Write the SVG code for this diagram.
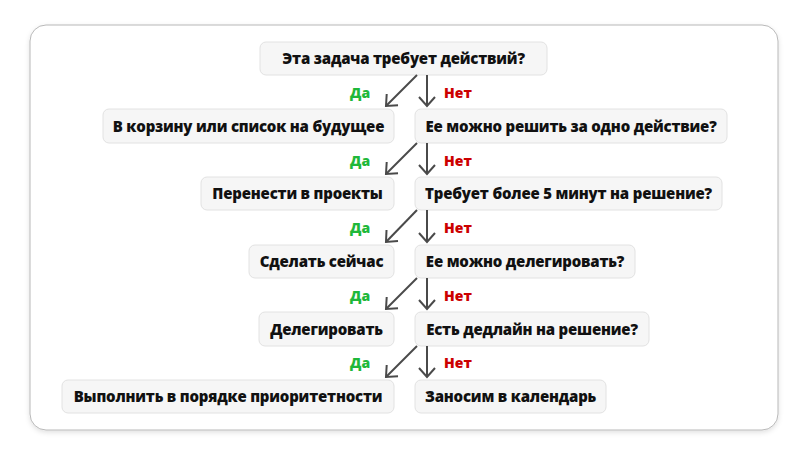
<svg xmlns="http://www.w3.org/2000/svg" width="808" height="455" viewBox="0 0 808 455">
<style>
.n rect{fill:#f6f6f6;stroke:#e2e2e2;stroke-width:1}
.n text{font-family:"Open Sans","Noto Sans",sans-serif;font-weight:800;font-size:15px;letter-spacing:-0.2px;fill:#111;text-anchor:middle}
.c path{fill:none;stroke:#4a4a4a;stroke-width:2}
.yes{font-family:"Open Sans","Noto Sans",sans-serif;font-weight:800;font-size:14px;fill:#1fb83a}
.no{font-family:"Open Sans","Noto Sans",sans-serif;font-weight:800;font-size:14px;fill:#cc0000}
</style>
<defs>
<marker id="ah" markerWidth="20" markerHeight="20" refX="11" refY="9" orient="auto" markerUnits="userSpaceOnUse">
<path d="M2,1 L11,9 L2,17" fill="none" stroke="#4a4a4a" stroke-width="2"/>
</marker>
<filter id="sh" x="-5%" y="-5%" width="110%" height="115%">
<feDropShadow dx="0" dy="2" stdDeviation="2.5" flood-color="#000" flood-opacity="0.12"/>
</filter>
</defs>
<rect width="808" height="455" fill="#fff"/>
<rect x="30" y="25" width="748" height="405" rx="16" fill="#fff" stroke="#b8b8b8" stroke-width="1" filter="url(#sh)"/>
<g id="n1" class="n"><rect x="260" y="42" width="287" height="33" rx="6"/><text x="403.5" y="64">Эта задача требует действий?</text></g>
<g id="n2" class="n"><rect x="103" y="109" width="291" height="34" rx="6"/><text x="248.5" y="131.5">В корзину или список на будущее</text></g>
<g id="n3" class="n"><rect x="415" y="109" width="312" height="34" rx="6"/><text x="571" y="131.5">Ее можно решить за одно действие?</text></g>
<g id="n4" class="n"><rect x="201" y="177" width="193" height="33" rx="6"/><text x="297.5" y="199">Перенести в проекты</text></g>
<g id="n5" class="n"><rect x="415" y="177" width="307" height="33" rx="6"/><text x="568.5" y="199">Требует более 5 минут на решение?</text></g>
<g id="n6" class="n"><rect x="249" y="245" width="145" height="33" rx="6"/><text x="321.5" y="267">Сделать сейчас</text></g>
<g id="n7" class="n"><rect x="415" y="245" width="220" height="33" rx="6"/><text x="525" y="267">Ее можно делегировать?</text></g>
<g id="n8" class="n"><rect x="259" y="312" width="135" height="34" rx="6"/><text x="326.5" y="334.5">Делегировать</text></g>
<g id="n9" class="n"><rect x="415" y="312" width="234" height="34" rx="6"/><text x="532" y="334.5">Есть дедлайн на решение?</text></g>
<g id="n10" class="n"><rect x="62" y="380" width="332" height="33" rx="6"/><text x="228" y="402">Выполнить в порядке приоритетности</text></g>
<g id="n11" class="n"><rect x="415" y="380" width="191" height="33" rx="6"/><text x="510.5" y="402">Заносим в календарь</text></g>
<g id="connectors" class="c">
<path d="M417,75 L386,106" marker-end="url(#ah)"/>
<path d="M427,75 L427,106" marker-end="url(#ah)"/>
<path d="M417,143 L386,174" marker-end="url(#ah)"/>
<path d="M427,143 L427,174" marker-end="url(#ah)"/>
<path d="M417,210 L386,242" marker-end="url(#ah)"/>
<path d="M427,210 L427,242" marker-end="url(#ah)"/>
<path d="M417,278 L386,309" marker-end="url(#ah)"/>
<path d="M427,278 L427,309" marker-end="url(#ah)"/>
<path d="M417,346 L386,377" marker-end="url(#ah)"/>
<path d="M427,346 L427,377" marker-end="url(#ah)"/>
</g>
<g id="labels">
<text class="yes" x="350" y="98">Да</text><text class="no" x="444" y="98">Нет</text>
<text class="yes" x="350" y="166">Да</text><text class="no" x="444" y="166">Нет</text>
<text class="yes" x="350" y="233">Да</text><text class="no" x="444" y="233">Нет</text>
<text class="yes" x="350" y="301">Да</text><text class="no" x="444" y="301">Нет</text>
<text class="yes" x="350" y="368">Да</text><text class="no" x="444" y="368">Нет</text>
</g>
</svg>
